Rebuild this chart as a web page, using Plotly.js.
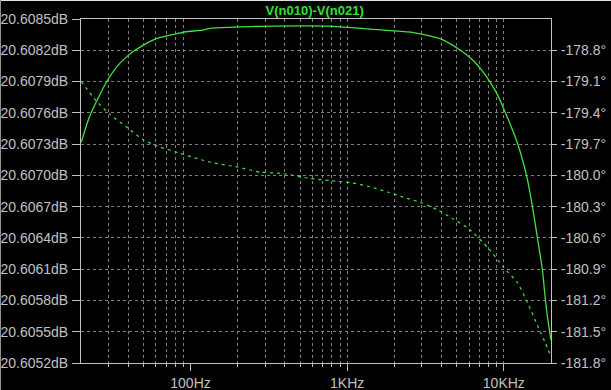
<!DOCTYPE html>
<html>
<head>
<meta charset="utf-8">
<script src="https://cdn.plot.ly/plotly-3.0.1.min.js"></script>
<style>
html,body{margin:0;padding:0;background:#000;}
#chart{width:611px;height:390px;}
</style>
</head>
<body>
<div id="chart"></div>
<script>
// Magnitude (solid, left axis, dB)
const magFreq = [20.1, 22.5, 25.5, 29.5, 34.2, 38, 43.3, 50.1, 60, 71.3, 82, 95.7, 115, 134, 180, 288, 818, 1808, 2650, 3938, 5284, 6397, 7300, 8212, 9200, 10237, 11200, 12214, 13200, 14147, 15226, 16385, 17636, 18430, 19260, 20000];
const magDb = [20.60732, 20.60755, 20.60773, 20.60791, 20.60805, 20.60812, 20.60819, 20.60825, 20.60831, 20.60834, 20.60836, 20.60838, 20.60839, 20.60841, 20.60842, 20.60843, 20.60843, 20.60839, 20.60837, 20.60831, 20.60820, 20.60810, 20.60800, 20.60789, 20.60776, 20.60760, 20.60746, 20.60731, 20.60714, 20.60696, 20.60670, 20.60640, 20.60609, 20.60580, 20.60558, 20.60542];

// Phase (dashed, right axis, degrees)
const phFreq = [20.1, 24.8, 30.9, 40.2, 50.1, 64.4, 86.4, 110.8, 140.3, 199.5, 279.8, 375.2, 583.3, 782.4, 1050, 1408, 1808, 2288, 2937, 3770, 4770, 5944, 7973, 9940, 12214, 14147, 16626, 18430, 20000];
const phDeg = [-179.10, -179.28, -179.42, -179.55, -179.66, -179.73, -179.79, -179.84, -179.88, -179.92, -179.97, -179.98, -180.03, -180.05, -180.07, -180.11, -180.16, -180.21, -180.26, -180.33, -180.42, -180.51, -180.70, -180.88, -181.03, -181.22, -181.46, -181.61, -181.74];

// Tick labels
const xTickVals = [100, 1000, 10000];
const xTickText = ['100Hz', '1KHz', '10KHz'];
const xMinorVals = [30,40,50,60,70,80,90, 200,300,400,500,600,700,800,900,1000, 2000,3000,4000,5000,6000,7000,8000,9000,10000];
const yLeftVals = [20.6052,20.6055,20.6058,20.6061,20.6064,20.6067,20.6070,20.6073,20.6076,20.6079,20.6082,20.6085];
const yLeftText = ['20.6052dB','20.6055dB','20.6058dB','20.6061dB','20.6064dB','20.6067dB','20.6070dB','20.6073dB','20.6076dB','20.6079dB','20.6082dB','20.6085dB'];
const yRightVals = [-181.8,-181.5,-181.2,-180.9,-180.6,-180.3,-180.0,-179.7,-179.4,-179.1,-178.8];
const yRightText = ['-181.8°','-181.5°','-181.2°','-180.9°','-180.6°','-180.3°','-180.0°','-179.7°','-179.4°','-179.1°','-178.8°'];

const green = '#44e044';
const lbl = '#c0c0c0';
const gridC = '#808080';
const fnt = {family: 'Liberation Sans, Arial, sans-serif', size: 14, color: lbl};

const traces = [
  {x: magFreq, y: magDb, type: 'scatter', mode: 'lines', line: {color: green, width: 1.3, shape: 'spline', smoothing: 0.6}, yaxis: 'y', hoverinfo: 'skip'},
  {x: phFreq, y: phDeg, type: 'scatter', mode: 'lines', line: {color: green, width: 1.2, dash: '3px,4px', shape: 'spline', smoothing: 0.6}, yaxis: 'y2', hoverinfo: 'skip'}
];

const layout = {
  width: 611, height: 390,
  margin: {l: 81, r: 60, t: 19, b: 27, pad: 0},
  paper_bgcolor: '#000', plot_bgcolor: '#000',
  showlegend: false,
  title: {text: 'V(n010)-V(n021)', font: {family: 'Liberation Sans, Arial, sans-serif', size: 13, color: '#33e033', weight: 'bold'}, x: 0.515, xanchor: 'center', y: 0.974, yanchor: 'middle', yref: 'container'},
  xaxis: {
    type: 'log', range: [Math.log10(20), Math.log10(20000)],
    tickmode: 'array', tickvals: xTickVals, ticktext: xTickText,
    ticks: 'outside', ticklen: 7, tickcolor: lbl, tickwidth: 1,
    showgrid: false, zeroline: false,
    showline: true, linecolor: lbl, linewidth: 1, mirror: true,
    tickfont: fnt,
    minor: {tickmode: 'array', tickvals: xMinorVals, ticks: 'outside', ticklen: 3, tickcolor: lbl, showgrid: true, gridcolor: gridC, griddash: '3px,3px', gridwidth: 1}
  },
  yaxis: {
    range: [20.6052, 20.6085],
    tickmode: 'array', tickvals: yLeftVals, ticktext: yLeftText,
    ticks: 'outside', ticklen: 8, tickcolor: lbl, tickwidth: 1,
    showgrid: true, gridcolor: gridC, griddash: '3px,3px', gridwidth: 1,
    zeroline: false, showline: true, linecolor: lbl, linewidth: 1,
    tickfont: fnt, ticklabelstandoff: 1
  },
  yaxis2: {
    overlaying: 'y', side: 'right',
    range: [-181.8, -178.5],
    tickmode: 'array', tickvals: yRightVals, ticktext: yRightText,
    ticks: 'outside', ticklen: 5, tickcolor: lbl, tickwidth: 1,
    showgrid: false, zeroline: false, showline: true, linecolor: lbl, linewidth: 1,
    tickfont: fnt, ticklabelstandoff: 1
  },
  shapes: [
    {type: 'line', xref: 'paper', yref: 'paper', x0: -81/470, x1: 530/470, y0: 1 + 18.5/344, y1: 1 + 18.5/344, line: {color: '#e0e0e0', width: 1}},
    {type: 'line', xref: 'paper', yref: 'paper', x0: -80.5/470, x1: -80.5/470, y0: -27/344, y1: 1 + 19/344, line: {color: '#909090', width: 1}}
  ]
};

Plotly.newPlot('chart', traces, layout, {staticPlot: true, displayModeBar: false});
</script>
</body>
</html>
